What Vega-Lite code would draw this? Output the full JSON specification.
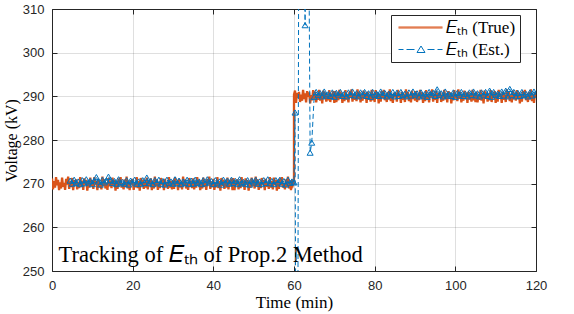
{
"$schema": "https://vega.github.io/schema/vega-lite/v6.json",
"width": 484, "height": 262,
"autosize": {"type": "none"},
"padding": {"left": 52, "top": 9, "right": 38, "bottom": 43},
"background": "white",
"config": {"view": {"stroke": null},
"axis": {"titleFont": "Liberation Serif", "titleFontSize": 17, "titleFontWeight": "normal", "titleColor": "black", "labelFont": "Liberation Sans", "labelFontSize": 13, "labelColor": "#262626", "labelFlush": false, "labelOverlap": false, "tickColor": "#262626", "tickSize": -5, "domainColor": "#262626", "gridColor": "#262626", "gridOpacity": 0.15}},
"datasets": {
"tru": [
{"t":0,"v":271.2},{"t":0.25,"v":268.7},{"t":0.5,"v":270.6},{"t":0.75,"v":269.1},{"t":1,"v":271.5},{"t":1.25,"v":269.6},{"t":1.5,"v":270.9},{"t":1.75,"v":268.5},{"t":2,"v":270.3},{"t":2.25,"v":268.9},{"t":2.5,"v":271.4},{"t":2.75,"v":269.3},{"t":3,"v":270.2},{"t":3.25,"v":268.6},{"t":3.5,"v":271.1},{"t":3.75,"v":269.8},{"t":4,"v":271.6},{"t":4.25,"v":268.8},{"t":4.5,"v":270.5},{"t":4.75,"v":269.2},
{"t":5,"v":271.3},{"t":5.25,"v":268.5},{"t":5.5,"v":270.8},{"t":5.75,"v":269.7},{"t":6,"v":271.0},{"t":6.25,"v":268.7},{"t":6.5,"v":270.4},{"t":6.75,"v":269.0},{"t":7,"v":271.5},{"t":7.25,"v":269.4},{"t":7.5,"v":270.7},{"t":7.75,"v":268.6},{"t":8,"v":271.2},{"t":8.25,"v":269.9},{"t":8.5,"v":270.9},{"t":8.75,"v":268.4},{"t":9,"v":270.3},{"t":9.25,"v":269.1},{"t":9.5,"v":271.4},{"t":9.75,"v":269.5},
{"t":10,"v":270.8},{"t":10.25,"v":268.8},{"t":10.5,"v":271.5},{"t":10.75,"v":269.8},{"t":11,"v":270.6},{"t":11.25,"v":268.5},{"t":11.5,"v":271.1},{"t":11.75,"v":269.2},{"t":12,"v":270.3},{"t":12.25,"v":268.7},{"t":12.5,"v":271.6},{"t":12.75,"v":269.5},{"t":13,"v":271.0},{"t":13.25,"v":268.9},{"t":13.5,"v":270.2},{"t":13.75,"v":268.6},{"t":14,"v":271.3},{"t":14.25,"v":269.4},{"t":14.5,"v":270.7},{"t":14.75,"v":269.0},
{"t":15,"v":271.4},{"t":15.25,"v":269.7},{"t":15.5,"v":270.9},{"t":15.75,"v":268.4},{"t":16,"v":270.5},{"t":16.25,"v":268.8},{"t":16.5,"v":271.2},{"t":16.75,"v":269.6},{"t":17,"v":271.5},{"t":17.25,"v":269.1},{"t":17.5,"v":270.1},{"t":17.75,"v":268.7},{"t":18,"v":271.0},{"t":18.25,"v":269.3},{"t":18.5,"v":271.6},{"t":18.75,"v":268.9},{"t":19,"v":270.4},{"t":19.25,"v":268.5},{"t":19.5,"v":270.8},{"t":19.75,"v":269.8},
{"t":20,"v":271.1},{"t":20.25,"v":268.6},{"t":20.5,"v":270.3},{"t":20.75,"v":269.2},{"t":21,"v":271.5},{"t":21.25,"v":269.0},{"t":21.5,"v":270.6},{"t":21.75,"v":268.4},{"t":22,"v":271.3},{"t":22.25,"v":269.5},{"t":22.5,"v":270.9},{"t":22.75,"v":268.8},{"t":23,"v":270.2},{"t":23.25,"v":269.1},{"t":23.5,"v":271.4},{"t":23.75,"v":268.7},{"t":24,"v":270.7},{"t":24.25,"v":269.6},{"t":24.5,"v":271.2},{"t":24.75,"v":268.5},
{"t":25,"v":270.5},{"t":25.25,"v":268.9},{"t":25.5,"v":271.6},{"t":25.75,"v":269.4},{"t":26,"v":271.0},{"t":26.25,"v":268.6},{"t":26.5,"v":270.4},{"t":26.75,"v":269.0},{"t":27,"v":271.3},{"t":27.25,"v":269.8},{"t":27.5,"v":270.8},{"t":27.75,"v":268.5},{"t":28,"v":271.1},{"t":28.25,"v":269.3},{"t":28.5,"v":270.3},{"t":28.75,"v":268.8},{"t":29,"v":271.5},{"t":29.25,"v":269.1},{"t":29.5,"v":270.6},{"t":29.75,"v":268.7},
{"t":30,"v":270.8},{"t":30.25,"v":268.8},{"t":30.5,"v":271.5},{"t":30.75,"v":269.8},{"t":31,"v":270.6},{"t":31.25,"v":268.5},{"t":31.5,"v":271.1},{"t":31.75,"v":269.2},{"t":32,"v":270.3},{"t":32.25,"v":268.7},{"t":32.5,"v":271.6},{"t":32.75,"v":269.5},{"t":33,"v":271.0},{"t":33.25,"v":268.9},{"t":33.5,"v":270.2},{"t":33.75,"v":268.6},{"t":34,"v":271.3},{"t":34.25,"v":269.4},{"t":34.5,"v":270.7},{"t":34.75,"v":269.0},
{"t":35,"v":271.2},{"t":35.25,"v":268.7},{"t":35.5,"v":270.6},{"t":35.75,"v":269.1},{"t":36,"v":271.5},{"t":36.25,"v":269.6},{"t":36.5,"v":270.9},{"t":36.75,"v":268.5},{"t":37,"v":270.3},{"t":37.25,"v":268.9},{"t":37.5,"v":271.4},{"t":37.75,"v":269.3},{"t":38,"v":270.2},{"t":38.25,"v":268.6},{"t":38.5,"v":271.1},{"t":38.75,"v":269.8},{"t":39,"v":271.6},{"t":39.25,"v":268.8},{"t":39.5,"v":270.5},{"t":39.75,"v":269.2},
{"t":40,"v":271.1},{"t":40.25,"v":268.6},{"t":40.5,"v":270.3},{"t":40.75,"v":269.2},{"t":41,"v":271.5},{"t":41.25,"v":269.0},{"t":41.5,"v":270.6},{"t":41.75,"v":268.4},{"t":42,"v":271.3},{"t":42.25,"v":269.5},{"t":42.5,"v":270.9},{"t":42.75,"v":268.8},{"t":43,"v":270.2},{"t":43.25,"v":269.1},{"t":43.5,"v":271.4},{"t":43.75,"v":268.7},{"t":44,"v":270.7},{"t":44.25,"v":269.6},{"t":44.5,"v":271.2},{"t":44.75,"v":268.5},
{"t":45,"v":271.3},{"t":45.25,"v":268.5},{"t":45.5,"v":270.8},{"t":45.75,"v":269.7},{"t":46,"v":271.0},{"t":46.25,"v":268.7},{"t":46.5,"v":270.4},{"t":46.75,"v":269.0},{"t":47,"v":271.5},{"t":47.25,"v":269.4},{"t":47.5,"v":270.7},{"t":47.75,"v":268.6},{"t":48,"v":271.2},{"t":48.25,"v":269.9},{"t":48.5,"v":270.9},{"t":48.75,"v":268.4},{"t":49,"v":270.3},{"t":49.25,"v":269.1},{"t":49.5,"v":271.4},{"t":49.75,"v":269.5},
{"t":50,"v":270.5},{"t":50.25,"v":268.9},{"t":50.5,"v":271.6},{"t":50.75,"v":269.4},{"t":51,"v":271.0},{"t":51.25,"v":268.6},{"t":51.5,"v":270.4},{"t":51.75,"v":269.0},{"t":52,"v":271.3},{"t":52.25,"v":269.8},{"t":52.5,"v":270.8},{"t":52.75,"v":268.5},{"t":53,"v":271.1},{"t":53.25,"v":269.3},{"t":53.5,"v":270.3},{"t":53.75,"v":268.8},{"t":54,"v":271.5},{"t":54.25,"v":269.1},{"t":54.5,"v":270.6},{"t":54.75,"v":268.7},
{"t":55,"v":271.4},{"t":55.25,"v":269.7},{"t":55.5,"v":270.9},{"t":55.75,"v":268.4},{"t":56,"v":270.5},{"t":56.25,"v":268.8},{"t":56.5,"v":271.2},{"t":56.75,"v":269.6},{"t":57,"v":271.5},{"t":57.25,"v":269.1},{"t":57.5,"v":270.1},{"t":57.75,"v":268.7},{"t":58,"v":271.0},{"t":58.25,"v":269.3},{"t":58.5,"v":271.6},{"t":58.75,"v":268.9},{"t":59,"v":270.4},{"t":59.25,"v":268.5},{"t":59.5,"v":270.8},{"t":59.75,"v":269.8},
{"t":60,"v":270.6},{"t":60,"v":290.4},
{"t":60.25,"v":291.3},{"t":60.5,"v":288.5},{"t":60.75,"v":290.8},{"t":61,"v":289.7},{"t":61.25,"v":291.0},{"t":61.5,"v":288.7},{"t":61.75,"v":290.4},{"t":62,"v":289.0},{"t":62.25,"v":291.5},{"t":62.5,"v":289.4},{"t":62.75,"v":290.7},{"t":63,"v":288.6},{"t":63.25,"v":291.2},{"t":63.5,"v":289.9},{"t":63.75,"v":290.9},{"t":64,"v":288.4},{"t":64.25,"v":290.3},{"t":64.5,"v":289.1},{"t":64.75,"v":291.4},{"t":65,"v":289.5},
{"t":65.25,"v":291.1},{"t":65.5,"v":288.6},{"t":65.75,"v":290.3},{"t":66,"v":289.2},{"t":66.25,"v":291.5},{"t":66.5,"v":289.0},{"t":66.75,"v":290.6},{"t":67,"v":288.4},{"t":67.25,"v":291.3},{"t":67.5,"v":289.5},{"t":67.75,"v":290.9},{"t":68,"v":288.8},{"t":68.25,"v":290.2},{"t":68.5,"v":289.1},{"t":68.75,"v":291.4},{"t":69,"v":288.7},{"t":69.25,"v":290.7},{"t":69.5,"v":289.6},{"t":69.75,"v":291.2},{"t":70,"v":288.5},
{"t":70.25,"v":291.2},{"t":70.5,"v":288.7},{"t":70.75,"v":290.6},{"t":71,"v":289.1},{"t":71.25,"v":291.5},{"t":71.5,"v":289.6},{"t":71.75,"v":290.9},{"t":72,"v":288.5},{"t":72.25,"v":290.3},{"t":72.5,"v":288.9},{"t":72.75,"v":291.4},{"t":73,"v":289.3},{"t":73.25,"v":290.2},{"t":73.5,"v":288.6},{"t":73.75,"v":291.1},{"t":74,"v":289.8},{"t":74.25,"v":291.6},{"t":74.5,"v":288.8},{"t":74.75,"v":290.5},{"t":75,"v":289.2},
{"t":75.25,"v":290.5},{"t":75.5,"v":288.9},{"t":75.75,"v":291.6},{"t":76,"v":289.4},{"t":76.25,"v":291.0},{"t":76.5,"v":288.6},{"t":76.75,"v":290.4},{"t":77,"v":289.0},{"t":77.25,"v":291.3},{"t":77.5,"v":289.8},{"t":77.75,"v":290.8},{"t":78,"v":288.5},{"t":78.25,"v":291.1},{"t":78.5,"v":289.3},{"t":78.75,"v":290.3},{"t":79,"v":288.8},{"t":79.25,"v":291.5},{"t":79.5,"v":289.1},{"t":79.75,"v":290.6},{"t":80,"v":288.7},
{"t":80.25,"v":291.4},{"t":80.5,"v":289.7},{"t":80.75,"v":290.9},{"t":81,"v":288.4},{"t":81.25,"v":290.5},{"t":81.5,"v":288.8},{"t":81.75,"v":291.2},{"t":82,"v":289.6},{"t":82.25,"v":291.5},{"t":82.5,"v":289.1},{"t":82.75,"v":290.1},{"t":83,"v":288.7},{"t":83.25,"v":291.0},{"t":83.5,"v":289.3},{"t":83.75,"v":291.6},{"t":84,"v":288.9},{"t":84.25,"v":290.4},{"t":84.5,"v":288.5},{"t":84.75,"v":290.8},{"t":85,"v":289.8},
{"t":85.25,"v":290.8},{"t":85.5,"v":288.8},{"t":85.75,"v":291.5},{"t":86,"v":289.8},{"t":86.25,"v":290.6},{"t":86.5,"v":288.5},{"t":86.75,"v":291.1},{"t":87,"v":289.2},{"t":87.25,"v":290.3},{"t":87.5,"v":288.7},{"t":87.75,"v":291.6},{"t":88,"v":289.5},{"t":88.25,"v":291.0},{"t":88.5,"v":288.9},{"t":88.75,"v":290.2},{"t":89,"v":288.6},{"t":89.25,"v":291.3},{"t":89.5,"v":289.4},{"t":89.75,"v":290.7},{"t":90,"v":289.0},
{"t":90.25,"v":291.2},{"t":90.5,"v":288.7},{"t":90.75,"v":290.6},{"t":91,"v":289.1},{"t":91.25,"v":291.5},{"t":91.5,"v":289.6},{"t":91.75,"v":290.9},{"t":92,"v":288.5},{"t":92.25,"v":290.3},{"t":92.5,"v":288.9},{"t":92.75,"v":291.4},{"t":93,"v":289.3},{"t":93.25,"v":290.2},{"t":93.5,"v":288.6},{"t":93.75,"v":291.1},{"t":94,"v":289.8},{"t":94.25,"v":291.6},{"t":94.5,"v":288.8},{"t":94.75,"v":290.5},{"t":95,"v":289.2},
{"t":95.25,"v":291.3},{"t":95.5,"v":288.5},{"t":95.75,"v":290.8},{"t":96,"v":289.7},{"t":96.25,"v":291.0},{"t":96.5,"v":288.7},{"t":96.75,"v":290.4},{"t":97,"v":289.0},{"t":97.25,"v":291.5},{"t":97.5,"v":289.4},{"t":97.75,"v":290.7},{"t":98,"v":288.6},{"t":98.25,"v":291.2},{"t":98.5,"v":289.9},{"t":98.75,"v":290.9},{"t":99,"v":288.4},{"t":99.25,"v":290.3},{"t":99.5,"v":289.1},{"t":99.75,"v":291.4},{"t":100,"v":289.5},
{"t":100.25,"v":290.5},{"t":100.5,"v":288.9},{"t":100.75,"v":291.6},{"t":101,"v":289.4},{"t":101.25,"v":291.0},{"t":101.5,"v":288.6},{"t":101.75,"v":290.4},{"t":102,"v":289.0},{"t":102.25,"v":291.3},{"t":102.5,"v":289.8},{"t":102.75,"v":290.8},{"t":103,"v":288.5},{"t":103.25,"v":291.1},{"t":103.5,"v":289.3},{"t":103.75,"v":290.3},{"t":104,"v":288.8},{"t":104.25,"v":291.5},{"t":104.5,"v":289.1},{"t":104.75,"v":290.6},{"t":105,"v":288.7},
{"t":105.25,"v":291.1},{"t":105.5,"v":288.6},{"t":105.75,"v":290.3},{"t":106,"v":289.2},{"t":106.25,"v":291.5},{"t":106.5,"v":289.0},{"t":106.75,"v":290.6},{"t":107,"v":288.4},{"t":107.25,"v":291.3},{"t":107.5,"v":289.5},{"t":107.75,"v":290.9},{"t":108,"v":288.8},{"t":108.25,"v":290.2},{"t":108.5,"v":289.1},{"t":108.75,"v":291.4},{"t":109,"v":288.7},{"t":109.25,"v":290.7},{"t":109.5,"v":289.6},{"t":109.75,"v":291.2},{"t":110,"v":288.5},
{"t":110.25,"v":290.8},{"t":110.5,"v":288.8},{"t":110.75,"v":291.5},{"t":111,"v":289.8},{"t":111.25,"v":290.6},{"t":111.5,"v":288.5},{"t":111.75,"v":291.1},{"t":112,"v":289.2},{"t":112.25,"v":290.3},{"t":112.5,"v":288.7},{"t":112.75,"v":291.6},{"t":113,"v":289.5},{"t":113.25,"v":291.0},{"t":113.5,"v":288.9},{"t":113.75,"v":290.2},{"t":114,"v":288.6},{"t":114.25,"v":291.3},{"t":114.5,"v":289.4},{"t":114.75,"v":290.7},{"t":115,"v":289.0},
{"t":115.25,"v":291.4},{"t":115.5,"v":289.7},{"t":115.75,"v":290.9},{"t":116,"v":288.4},{"t":116.25,"v":290.5},{"t":116.5,"v":288.8},{"t":116.75,"v":291.2},{"t":117,"v":289.6},{"t":117.25,"v":291.5},{"t":117.5,"v":289.1},{"t":117.75,"v":290.1},{"t":118,"v":288.7},{"t":118.25,"v":291.0},{"t":118.5,"v":289.3},{"t":118.75,"v":291.6},{"t":119,"v":288.9},{"t":119.25,"v":290.4},{"t":119.5,"v":288.5},{"t":119.75,"v":290.8},{"t":120,"v":289.8}
],
"est": [
{"t":4.5,"v":270.7},{"t":5,"v":270.0},{"t":5.5,"v":270.9},{"t":6,"v":270.2},{"t":6.5,"v":270.5},{"t":7,"v":269.9},{"t":7.5,"v":270.8},{"t":8,"v":270.1},{"t":8.5,"v":271.0},{"t":9,"v":270.3},{"t":9.5,"v":270.6},{"t":10,"v":269.9},{"t":10.5,"v":270.8},{"t":11,"v":271.5},{"t":11.5,"v":270.5},{"t":12,"v":269.8},{"t":12.5,"v":270.9},{"t":13,"v":270.3},{"t":13.5,"v":270.7},{"t":14,"v":271.6},
{"t":14.5,"v":270.9},{"t":15,"v":270.2},{"t":15.5,"v":270.6},{"t":16,"v":269.9},{"t":16.5,"v":271.0},{"t":17,"v":270.1},{"t":17.5,"v":270.4},{"t":18,"v":270.0},{"t":18.5,"v":270.8},{"t":19,"v":269.8},{"t":19.5,"v":270.7},{"t":20,"v":270.3},{"t":20.5,"v":270.9},{"t":21,"v":270.0},{"t":21.5,"v":270.5},{"t":22,"v":269.9},{"t":22.5,"v":270.8},{"t":23,"v":270.2},{"t":23.5,"v":271.4},{"t":24,"v":270.1},
{"t":24.5,"v":270.6},{"t":25,"v":269.9},{"t":25.5,"v":270.8},{"t":26,"v":270.3},{"t":26.5,"v":270.9},{"t":27,"v":270.0},{"t":27.5,"v":270.6},{"t":28,"v":269.8},{"t":28.5,"v":270.9},{"t":29,"v":270.2},{"t":29.5,"v":270.5},{"t":30,"v":270.0},{"t":30.5,"v":271.0},{"t":31,"v":270.1},{"t":31.5,"v":270.7},{"t":32,"v":269.9},{"t":32.5,"v":270.5},{"t":33,"v":270.2},{"t":33.5,"v":270.9},{"t":34,"v":269.9},
{"t":34.5,"v":270.7},{"t":35,"v":270.0},{"t":35.5,"v":270.9},{"t":36,"v":270.2},{"t":36.5,"v":270.5},{"t":37,"v":269.9},{"t":37.5,"v":270.8},{"t":38,"v":270.1},{"t":38.5,"v":271.0},{"t":39,"v":270.3},{"t":39.5,"v":270.6},{"t":40,"v":269.9},{"t":40.5,"v":270.8},{"t":41,"v":270.1},{"t":41.5,"v":270.5},{"t":42,"v":269.8},{"t":42.5,"v":270.9},{"t":43,"v":270.3},{"t":43.5,"v":270.7},{"t":44,"v":270.0},
{"t":44.5,"v":270.9},{"t":45,"v":270.2},{"t":45.5,"v":270.6},{"t":46,"v":269.9},{"t":46.5,"v":271.0},{"t":47,"v":270.1},{"t":47.5,"v":270.4},{"t":48,"v":270.0},{"t":48.5,"v":270.8},{"t":49,"v":269.8},{"t":49.5,"v":270.7},{"t":50,"v":270.3},{"t":50.5,"v":270.9},{"t":51,"v":270.0},{"t":51.5,"v":270.5},{"t":52,"v":269.9},{"t":52.5,"v":270.8},{"t":53,"v":270.2},{"t":53.5,"v":271.0},{"t":54,"v":270.1},
{"t":54.5,"v":270.6},{"t":55,"v":269.9},{"t":55.5,"v":270.8},{"t":56,"v":270.3},{"t":56.5,"v":270.9},{"t":57,"v":270.0},{"t":57.5,"v":270.6},{"t":58,"v":269.8},{"t":58.5,"v":270.9},{"t":59,"v":270.2},{"t":59.5,"v":270.5},
{"t":60,"v":270.3},{"t":60.25,"v":286.3},{"t":60.75,"v":150},{"t":61.4,"v":420},{"t":62.75,"v":306.3},{"t":63.3,"v":380},{"t":64,"v":277.1},{"t":64.4,"v":279.4},{"t":65,"v":289.9},
{"t":65.5,"v":291.0},{"t":66,"v":290.3},{"t":66.5,"v":290.7},{"t":67,"v":290.0},{"t":67.5,"v":291.1},{"t":68,"v":290.2},{"t":68.5,"v":290.5},{"t":69,"v":290.1},{"t":69.5,"v":290.9},{"t":70,"v":289.9},{"t":70.5,"v":290.8},{"t":71,"v":290.4},{"t":71.5,"v":291.0},{"t":72,"v":290.1},{"t":72.5,"v":290.6},{"t":73,"v":290.0},{"t":73.5,"v":290.9},{"t":74,"v":290.3},{"t":74.5,"v":291.1},{"t":75,"v":290.2},
{"t":75.5,"v":290.7},{"t":76,"v":290.0},{"t":76.5,"v":290.9},{"t":77,"v":290.4},{"t":77.5,"v":291.0},{"t":78,"v":290.1},{"t":78.5,"v":290.7},{"t":79,"v":289.9},{"t":79.5,"v":291.0},{"t":80,"v":290.3},{"t":80.5,"v":290.6},{"t":81,"v":290.1},{"t":81.5,"v":291.1},{"t":82,"v":290.2},{"t":82.5,"v":290.8},{"t":83,"v":290.0},{"t":83.5,"v":290.6},{"t":84,"v":290.3},{"t":84.5,"v":291.0},{"t":85,"v":290.0},
{"t":85.5,"v":290.8},{"t":86,"v":290.1},{"t":86.5,"v":291.0},{"t":87,"v":290.3},{"t":87.5,"v":290.6},{"t":88,"v":290.0},{"t":88.5,"v":290.9},{"t":89,"v":290.2},{"t":89.5,"v":291.1},{"t":90,"v":290.4},{"t":90.5,"v":290.7},{"t":91,"v":290.0},{"t":91.5,"v":290.9},{"t":92,"v":290.2},{"t":92.5,"v":290.6},{"t":93,"v":289.9},{"t":93.5,"v":291.0},{"t":94,"v":290.4},{"t":94.5,"v":290.8},{"t":95,"v":290.1},
{"t":95.5,"v":291.6},{"t":96,"v":290.3},{"t":96.5,"v":290.7},{"t":97,"v":290.0},{"t":97.5,"v":291.1},{"t":98,"v":290.2},{"t":98.5,"v":290.5},{"t":99,"v":290.1},{"t":99.5,"v":290.9},{"t":100,"v":289.9},{"t":100.5,"v":290.8},{"t":101,"v":290.4},{"t":101.5,"v":291.0},{"t":102,"v":290.1},{"t":102.5,"v":290.6},{"t":103,"v":290.0},{"t":103.5,"v":290.9},{"t":104,"v":290.3},{"t":104.5,"v":291.1},{"t":105,"v":290.2},
{"t":105.5,"v":290.7},{"t":106,"v":290.0},{"t":106.5,"v":290.9},{"t":107,"v":290.4},{"t":107.5,"v":291.0},{"t":108,"v":290.1},{"t":108.5,"v":291.3},{"t":109,"v":289.9},{"t":109.5,"v":291.0},{"t":110,"v":290.3},{"t":110.5,"v":290.6},{"t":111,"v":290.1},{"t":111.5,"v":291.1},{"t":112,"v":290.2},{"t":112.5,"v":291.3},{"t":113,"v":290.0},{"t":113.5,"v":291.7},{"t":114,"v":290.3},{"t":114.5,"v":291.0},{"t":115,"v":290.0},
{"t":115.5,"v":290.8},{"t":116,"v":290.1},{"t":116.5,"v":291.0},{"t":117,"v":290.3},{"t":117.5,"v":290.6},{"t":118,"v":290.0},{"t":118.5,"v":290.9},{"t":119,"v":290.2},{"t":119.5,"v":291.1},{"t":120,"v":290.4}
]
},
"layer": [
{
"data": {"name": "tru"},
"mark": {"type": "line", "strokeWidth": 2.3, "clip": true},
"encoding": {
"x": {"field": "t", "type": "quantitative", "scale": {"domain": [0, 120], "nice": false},
"axis": {"orient": "bottom", "values": [0, 20, 40, 60, 80, 100, 120], "title": "Time (min)", "titlePadding": 2, "labelPadding": 13, "grid": true}},
"y": {"field": "v", "type": "quantitative", "scale": {"domain": [250, 310], "nice": false, "zero": false},
"axis": {"orient": "left", "values": [250, 260, 270, 280, 290, 300, 310], "title": "Voltage (kV)", "titleFontSize": 16, "titlePadding": 3, "labelPadding": 13, "grid": true}},
"color": {"datum": "𝐸ₜₕ (True)", "type": "nominal",
"scale": {"domain": ["𝐸ₜₕ (True)", "𝐸ₜₕ (Est.)"], "range": ["#D95319", "#0072BD"]},
"legend": {"orient": "none", "legendX": 339, "legendY": 6, "title": null, "padding": 4, "strokeColor": "#262626", "fillColor": "white", "labelFont": "Liberation Serif", "labelFontSize": 17, "labelColor": "black", "symbolSize": 100, "symbolStrokeWidth": 1, "labelOffset": 34, "rowPadding": 4}}
}
},
{
"data": {"name": "est"},
"mark": {"type": "line", "strokeWidth": 1, "strokeDash": [5, 3], "clip": true},
"encoding": {
"x": {"field": "t", "type": "quantitative", "axis": null},
"y": {"field": "v", "type": "quantitative", "axis": null},
"color": {"datum": "𝐸ₜₕ (Est.)", "type": "nominal"}
}
},
{
"data": {"name": "est"},
"mark": {"type": "point", "shape": "triangle-up", "filled": false, "size": 36, "strokeWidth": 1, "opacity": 1, "clip": true},
"encoding": {
"x": {"field": "t", "type": "quantitative", "axis": null},
"y": {"field": "v", "type": "quantitative", "axis": null},
"color": {"datum": "𝐸ₜₕ (Est.)", "type": "nominal"}
}
},
{
"data": {"values": []},
"mark": {"type": "point", "filled": false, "opacity": 1},
"encoding": {
"x": {"field": "t", "type": "quantitative", "axis": null},
"y": {"field": "v", "type": "quantitative", "axis": null},
"color": {"datum": "𝐸ₜₕ (Est.)", "type": "nominal"},
"shape": {"datum": "𝐸ₜₕ (Est.)", "type": "nominal",
"scale": {"domain": ["𝐸ₜₕ (True)", "𝐸ₜₕ (Est.)"], "range": ["M-1,-0.1H7.8M-1,0.1H7.8", "M-1,0H0M0.6,0H2.2M2.7,0.6L3.5,-0.7L4.3,0.6ZM4.8,0H6.2M6.8,0H7.8"]}}
}
},
{
"data": {"values": [{}]},
"mark": {"type": "text", "align": "left", "baseline": "alphabetic", "font": "Liberation Serif", "fontSize": 22.5, "color": "black", "text": "Tracking of 𝐸ₜₕ of Prop.2 Method"},
"encoding": {
"x": {"datum": 1.6, "type": "quantitative", "axis": {"orient": "top", "values": [0, 20, 40, 60, 80, 100, 120], "labels": false, "title": null, "grid": false}},
"y": {"datum": 252.1, "type": "quantitative", "axis": {"orient": "right", "values": [250, 260, 270, 280, 290, 300, 310], "labels": false, "title": null, "grid": false}}
}
}
],
"resolve": {"axis": {"x": "independent", "y": "independent"}}
}
